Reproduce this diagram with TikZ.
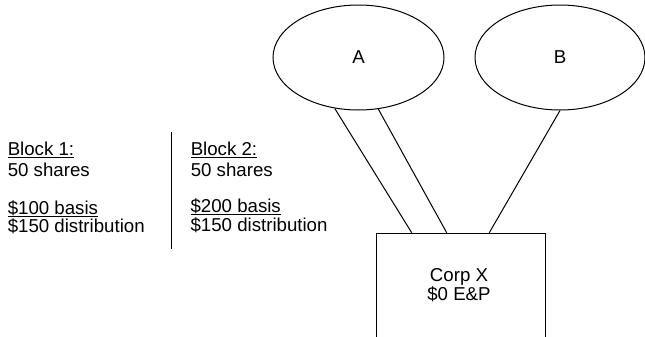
\documentclass[tikz,border=0pt]{standalone}
\usepackage{fontspec}
\setmainfont{Liberation Sans}
\usetikzlibrary{shapes.geometric,calc}
\newcommand\uln[1]{\underline{\smash{#1}}}
\begin{document}
\begin{tikzpicture}[x=0.75bp,y=-0.75bp,
  every node/.style={font=\fontsize{14bp}{16bp}\selectfont},
  owner/.style={ellipse,draw,line width=0.75bp,inner sep=0pt,
    minimum width=128.25bp,minimum height=78.75bp},
  corpbox/.style={rectangle,draw,line width=0.75bp,
    minimum width=127.3bp,minimum height=150bp,anchor=north},
  txt/.style={anchor=base west,inner sep=0pt},
  mid/.style={anchor=base,inner sep=0pt},
  link/.style={line width=0.75bp}]
\useasboundingbox (0,0) rectangle (645,337);
% shareholders and the corporation
\node[owner] (A) at (358.5,57.5) {A};
\node[owner,minimum width=127.5bp] (B) at (560,57.5) {B};
\node[corpbox] (corp) at (460.9,232.7) {};
\node[mid] (corpname) at (459,281) {Corp X};
\node[mid] (corpep) at (459,300) {\$0 E\&P};
\draw[link] (A.-115) -- ($(corp.north)+(-49.2,0)$);
\draw[link] (A.-69.6) -- ($(corp.north)+(-14.2,0)$);
\draw[link] (B.south) -- ($(corp.north)+(28.4,0)$);
% the two blocks of stock
\node[txt] (blkone) at (7.5,155) {\uln{Block 1:}};
\node[txt] (blkoneshr) at (7.5,176.7) {50 shares};
\node[txt] (blkonebas) at (7.5,214) {\uln{\$100 basis}};
\node[txt] (blkonedist) at (7.5,232.7) {\$150 distribution};
\draw[link] (171.7,132.3) -- (171.7,249.3);
\node[txt] (blktwo) at (190.5,155) {\uln{Block 2:}};
\node[txt] (blktwoshr) at (190.5,176.7) {50 shares};
\node[txt] (blktwobas) at (190.3,212.5) {\uln{\$200 basis}};
\node[txt] (blktwodist) at (190.3,231.2) {\$150 distribution};
\end{tikzpicture}
\end{document}
